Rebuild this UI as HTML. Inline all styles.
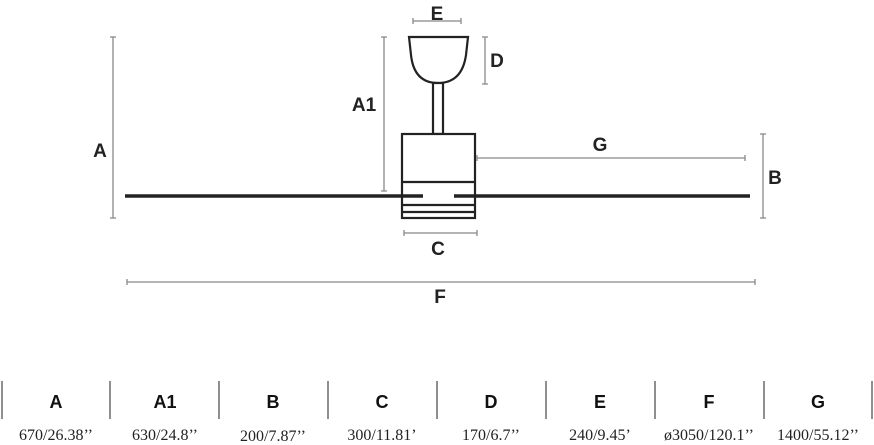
<!DOCTYPE html>
<html><head><meta charset="utf-8"><style>
body{margin:0;background:#fff;width:874px;height:445px;overflow:hidden}
svg{display:block}
.d{stroke:#888;stroke-width:1.3;fill:none}
.t{font-family:"Liberation Sans",sans-serif;font-weight:bold;font-size:19px;fill:#222;text-anchor:middle}
.h{font-family:"Liberation Sans",sans-serif;font-weight:bold;font-size:18px;fill:#111;text-anchor:middle}
.v{font-family:"Liberation Serif",serif;font-size:16px;fill:#222;text-anchor:middle}
</style></head><body>
<svg width="874" height="445" viewBox="0 0 874 445">
<g stroke="#222" stroke-width="2.2" fill="#fff">
<path d="M409 37 L468 37 L466 55 Q462 83 438 83 Q414 83 411 55 Z"/>
<rect x="433" y="83" width="10" height="51"/>
<rect x="402" y="134" width="73" height="84"/>
<line x1="402" y1="182" x2="475" y2="182"/>
<line x1="402" y1="205" x2="475" y2="205"/>
<line x1="402" y1="212" x2="475" y2="212"/>
</g>
<g stroke="#222" stroke-width="3.5">
<line x1="125" y1="196" x2="423" y2="196"/>
<line x1="454" y1="196" x2="750" y2="196"/>
</g>
<g class="d">
<path d="M413 21H461M413 18v6M461 18v6"/>
<path d="M485 37V84M482 37h6M482 84h6"/>
<path d="M384 37V191M381 37h6M381 191h6"/>
<path d="M113 37V218M110 37h6M110 218h6"/>
<path d="M477 158H745M477 155v6M745 155v6"/>
<path d="M763 134V218M760 134h6M760 218h6"/>
<path d="M404 233H477M404 230v6M477 230v6"/>
<path d="M127 282H755M127 279v6M755 279v6"/>
</g>
<text class="t" x="437" y="20">E</text>
<text class="t" x="497" y="67">D</text>
<text class="t" x="364" y="111">A1</text>
<text class="t" x="100" y="157">A</text>
<text class="t" x="600" y="151">G</text>
<text class="t" x="775" y="184">B</text>
<text class="t" x="438" y="255">C</text>
<text class="t" x="440" y="303">F</text>
<g stroke="#444" stroke-width="1.2">
<line x1="2" y1="381" x2="2" y2="419"/><line x1="110" y1="381" x2="110" y2="419"/>
<line x1="219" y1="381" x2="219" y2="419"/><line x1="328" y1="381" x2="328" y2="419"/>
<line x1="437" y1="381" x2="437" y2="419"/><line x1="546" y1="381" x2="546" y2="419"/>
<line x1="655" y1="381" x2="655" y2="419"/><line x1="764" y1="381" x2="764" y2="419"/>
<line x1="872" y1="381" x2="872" y2="419"/>
</g>
<text class="h" x="56" y="408">A</text><text class="h" x="165" y="408">A1</text>
<text class="h" x="273" y="408">B</text><text class="h" x="382" y="408">C</text>
<text class="h" x="491" y="408">D</text><text class="h" x="600" y="408">E</text>
<text class="h" x="709" y="408">F</text><text class="h" x="818" y="408">G</text>
<text class="v" x="56" y="440">670/26.38’’</text><text class="v" x="165" y="440">630/24.8’’</text>
<text class="v" x="273" y="441">200/7.87’’</text><text class="v" x="382" y="440">300/11.81’</text>
<text class="v" x="491" y="440">170/6.7’’</text><text class="v" x="600" y="440">240/9.45’</text>
<text class="v" x="709" y="440">ø3050/120.1’’</text><text class="v" x="818" y="440">1400/55.12’’</text>
</svg>
</body></html>
